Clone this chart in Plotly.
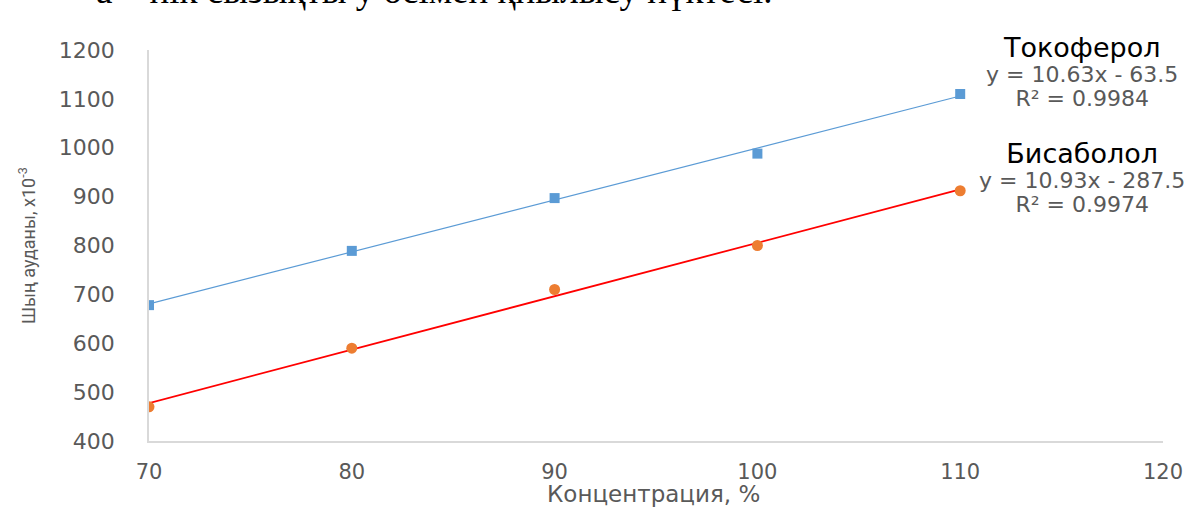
import numpy as np
import plotly.graph_objects as go

# Concentration levels, %
conc = [70, 80, 90, 100, 110]

# Peak areas, x10^-3
tocopherol = [678, 789, 897, 988, 1110]
bisabolol = [470, 590, 710, 800, 912]

# Linear trendline coefficients (slope, intercept) and R²
toco_fit = [10.63, -63.5]
toco_r2 = 0.9984
bisa_fit = [10.93, -287.5]
bisa_r2 = 0.9974

x_ticks = [70, 80, 90, 100, 110, 120]
y_ticks = [400, 500, 600, 700, 800, 900, 1000, 1100, 1200]

fit_x = np.array([min(conc), max(conc)])

fig = go.Figure()

# Trendlines
fig.add_trace(go.Scatter(
    x=fit_x, y=toco_fit[0] * fit_x + toco_fit[1], mode="lines",
    line=dict(color="#5b9bd5", width=1.2), showlegend=False, hoverinfo="skip"))
fig.add_trace(go.Scatter(
    x=fit_x, y=bisa_fit[0] * fit_x + bisa_fit[1], mode="lines",
    line=dict(color="#ff0000", width=1.8), showlegend=False, hoverinfo="skip"))

# Measured points
fig.add_trace(go.Scatter(
    x=conc, y=tocopherol, mode="markers", name="Токоферол",
    marker=dict(symbol="square", size=10, color="#5b9bd5"), showlegend=False))
fig.add_trace(go.Scatter(
    x=conc, y=bisabolol, mode="markers", name="Бисаболол",
    marker=dict(symbol="circle", size=11, color="#ed7d31"), showlegend=False))

gray = "#595959"
right_x = 1082

# Pixel-based annotation helpers (convert to paper coordinates)
W, H = 1197, 517
ml, mr, mt, mb = 149, 34, 50, 76
pw, ph = W - ml - mr, H - mt - mb

def px(xp):
    return (xp - ml) / pw

def py(yp):
    return (H - mb - yp) / ph

def fit_label(name, fit, r2):
    sign = "-" if fit[1] < 0 else "+"
    return (f'<span style="font-size:27px;color:#000000">{name}</span><br>'
            f'<span style="font-size:22px">y = {fit[0]}x {sign} {abs(fit[1])}</span><br>'
            f'<span style="font-size:22px">R² = {r2}</span>')

for name, fit, r2, yy in [("Токоферол", toco_fit, toco_r2, 72),
                          ("Бисаболол", bisa_fit, bisa_r2, 177)]:
    fig.add_annotation(x=px(right_x), y=py(yy), xref="paper", yref="paper",
                       text=fit_label(name, fit, r2), showarrow=False,
                       xanchor="center", yanchor="middle", align="center",
                       font=dict(size=19, color=gray, family="DejaVu Sans"))

# Caption line above the chart (runs past the top of the page)
fig.add_annotation(x=px(434), y=py(13), xref="paper", yref="paper",
                   text="а – пік сызықты у өсімен қиылысу нүктесі.",
                   showarrow=False, xanchor="center", yanchor="bottom",
                   font=dict(size=37, color="#000000", family="Liberation Serif"))

# Axis titles
fig.add_annotation(x=px(653), y=py(494), xref="paper", yref="paper",
                   text="Концентрация, %", showarrow=False,
                   xanchor="center", yanchor="middle",
                   font=dict(size=23, color=gray, family="DejaVu Sans"))
fig.add_annotation(x=px(27), y=py(246), xref="paper", yref="paper",
                   text="Шың ауданы, х10<sup>-3</sup>", showarrow=False, textangle=-90,
                   xanchor="center", yanchor="middle",
                   font=dict(size=18, color=gray, family="Roboto"))

fig.update_xaxes(range=[70, 120], tickvals=x_ticks, showgrid=False, zeroline=False,
                 showline=True, linecolor="#d9d9d9", linewidth=1.5,
                 ticks="outside", ticklen=11, tickcolor="rgba(0,0,0,0)",
                 tickfont=dict(size=21, color=gray, family="DejaVu Sans"))
fig.update_yaxes(range=[400, 1200], tickvals=y_ticks, showgrid=False, zeroline=False,
                 showline=True, linecolor="#d9d9d9", linewidth=1.5,
                 ticks="outside", ticklen=28, tickcolor="rgba(0,0,0,0)",
                 tickfont=dict(size=22, color=gray, family="DejaVu Sans"))

fig.update_layout(width=W, height=H, margin=dict(l=ml, r=mr, t=mt, b=mb),
                  plot_bgcolor="white", paper_bgcolor="white", showlegend=False)

fig.write_html("out.html")
